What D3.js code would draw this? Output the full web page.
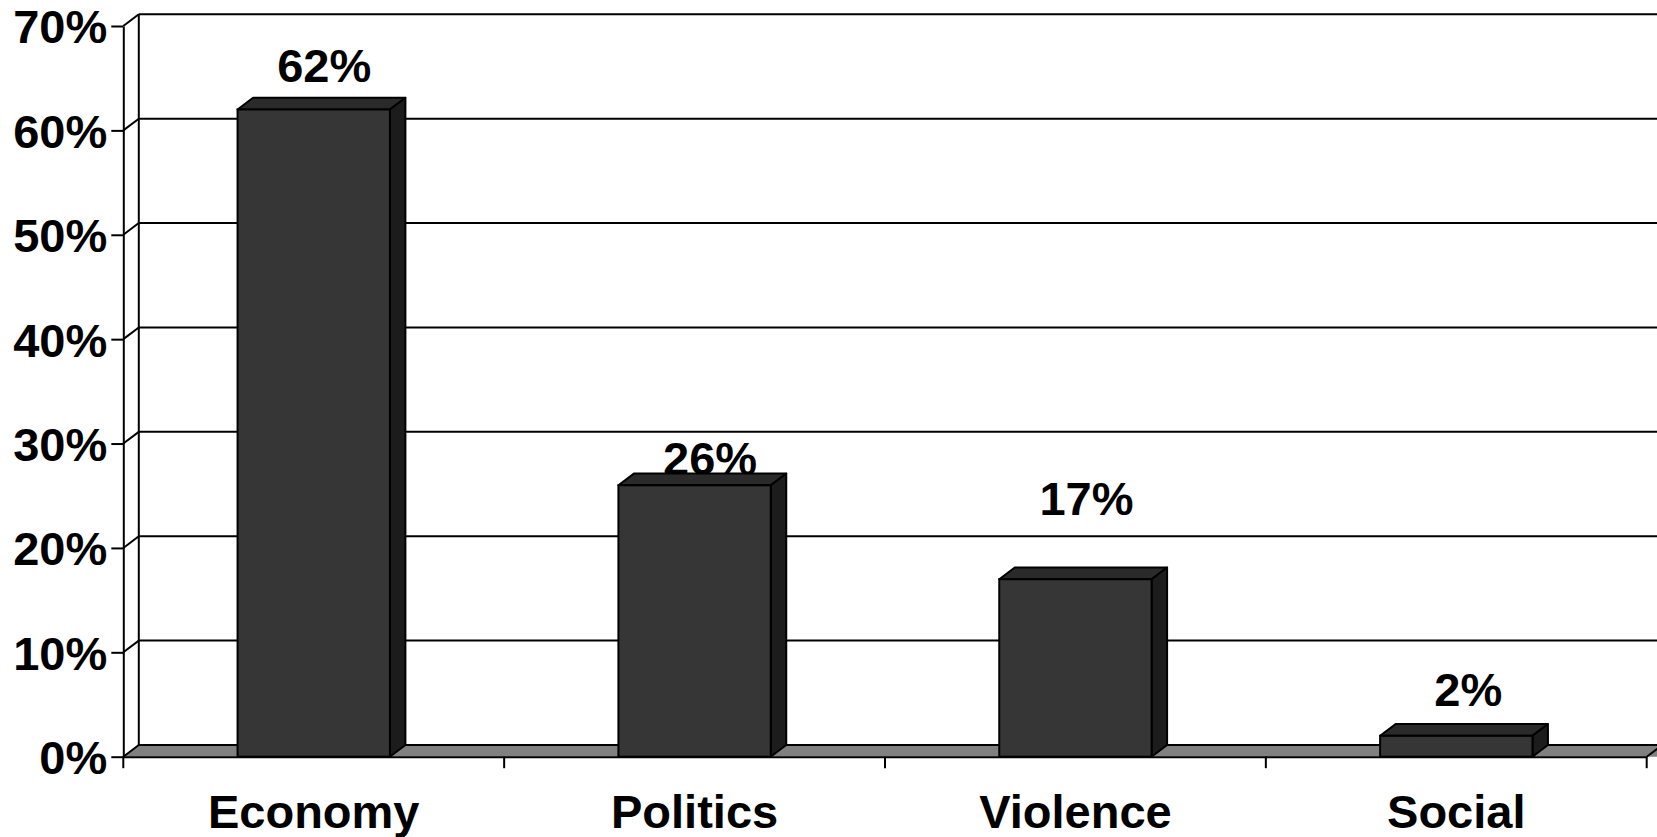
<!DOCTYPE html>
<html>
<head>
<meta charset="utf-8">
<script src="https://cdn.jsdelivr.net/npm/d3@7"></script>
<style>
  html, body { margin: 0; padding: 0; background: #fff; overflow: hidden; }
  svg { display: block; }
  text { font-family: "Liberation Sans", Arial, sans-serif; font-weight: bold; fill: #000; }
</style>
</head>
<body>
<svg id="chart" width="1657" height="837"></svg>
<script>
// ---- data ----
const categories = ["Economy", "Politics", "Violence", "Social"];
const values = [62, 26, 17, 2];
const valueLabels = ["62%", "26%", "17%", "2%"];
const yTicks = [0, 10, 20, 30, 40, 50, 60, 70];

// ---- layout ----
const svg = d3.select("#chart");
const left = 123.3, right = 1646.7, yBottom = 756.7, yTop = 26;
const dx = 15.5, dy = -11.7;           // depth offset
const fontSize = 47;

const x = d3.scaleBand().domain(categories).range([left, right])
  .paddingInner(0.6).paddingOuter(0.3);
const y = d3.scaleLinear().domain([0, 70]).range([yBottom, yTop]);

// label nudges (x from band centre, y from front top)
const labelDX = [10.5, 15.5, 11, 12];
const labelDY = [-27.4, -10, -64, -29.8];

// back wall gridlines
const g = svg.append("g");
g.selectAll("line.grid").data(yTicks.slice(1)).join("line")
  .attr("class", "grid")
  .attr("x1", left + dx).attr("x2", 1700)
  .attr("y1", d => y(d) + dy).attr("y2", d => y(d) + dy)
  .attr("stroke", "#000").attr("stroke-width", 2);
// left wall diagonals
g.selectAll("line.diag").data(yTicks.slice(1)).join("line")
  .attr("class", "diag")
  .attr("x1", left).attr("x2", left + dx)
  .attr("y1", d => y(d)).attr("y2", d => y(d) + dy)
  .attr("stroke", "#000").attr("stroke-width", 2);
// back wall left edge
g.append("line")
  .attr("x1", left + dx).attr("x2", left + dx)
  .attr("y1", y(0) + dy).attr("y2", y(70) + dy)
  .attr("stroke", "#000").attr("stroke-width", 2);

// floor
g.append("path")
  .attr("d", d3.line()([[left, y(0)], [left + dx, y(0) + dy], [right + dx + 40, y(0) + dy], [right + 40, y(0)], [left, y(0)]]))
  .attr("fill", "#808080");
g.append("line").attr("x1", left + dx).attr("x2", 1700)
  .attr("y1", y(0) + dy).attr("y2", y(0) + dy)
  .attr("stroke", "#000").attr("stroke-width", 2);
g.append("line").attr("x1", left).attr("x2", left + dx)
  .attr("y1", y(0)).attr("y2", y(0) + dy)
  .attr("stroke", "#000").attr("stroke-width", 2);
g.append("line").attr("x1", right).attr("x2", right + dx)
  .attr("y1", y(0)).attr("y2", y(0) + dy)
  .attr("stroke", "#000").attr("stroke-width", 2);

// value labels (drawn before bars, bars may overlap)
svg.append("g").selectAll("text").data(values).join("text")
  .attr("x", (d, i) => x(categories[i]) + x.bandwidth() / 2 + labelDX[i])
  .attr("y", (d, i) => y(d) + labelDY[i])
  .attr("text-anchor", "middle")
  .attr("font-size", fontSize)
  .text((d, i) => valueLabels[i]);

// bars
const bars = svg.append("g").selectAll("g").data(values).join("g");
bars.each(function (v, i) {
  const gb = d3.select(this);
  const x0 = x(categories[i]), x1 = x0 + x.bandwidth();
  const yt = y(v), yb = y(0);
  gb.append("path")
    .attr("d", d3.line()([[x0, yt], [x0 + dx, yt + dy], [x1 + dx, yt + dy], [x1, yt]]) + "Z")
    .attr("fill", "#2a2a2a").attr("stroke", "#000").attr("stroke-width", 2).attr("stroke-linejoin", "round");
  gb.append("path")
    .attr("d", d3.line()([[x1, yt], [x1 + dx, yt + dy], [x1 + dx, yb + dy], [x1, yb]]) + "Z")
    .attr("fill", "#1c1c1c").attr("stroke", "#000").attr("stroke-width", 2).attr("stroke-linejoin", "round");
  gb.append("rect")
    .attr("x", x0).attr("y", yt).attr("width", x1 - x0).attr("height", yb - yt)
    .attr("fill", "#363636").attr("stroke", "#000").attr("stroke-width", 2);
});

// y axis (front)
const yAxis = svg.append("g").attr("transform", `translate(${left},0)`)
  .call(d3.axisLeft(y).tickValues(yTicks).tickFormat(d => d + "%").tickSize(12).tickSizeOuter(0).tickPadding(4));
yAxis.select(".domain").attr("stroke", "#000").attr("stroke-width", 2);
yAxis.selectAll(".tick line").attr("stroke", "#000").attr("stroke-width", 2);
yAxis.selectAll(".tick text").attr("font-size", fontSize)
  .attr("font-family", "Liberation Sans, Arial, sans-serif").attr("font-weight", "bold")
  .attr("dy", "0.36em");

// x axis (front)
const xAxis = svg.append("g").attr("transform", `translate(0,${yBottom})`)
  .call(d3.axisBottom(x).tickSize(0).tickPadding(38));
xAxis.select(".domain").attr("stroke", "#000").attr("stroke-width", 2);
xAxis.selectAll(".tick text").attr("font-size", fontSize)
  .attr("font-family", "Liberation Sans, Arial, sans-serif").attr("font-weight", "bold");
// category boundary ticks
const bounds = d3.range(categories.length + 1).map(i => left + i * x.step());
xAxis.selectAll("line.bt").data(bounds).join("line").attr("class", "bt")
  .attr("x1", d => d).attr("x2", d => d).attr("y1", 0).attr("y2", 11.5)
  .attr("stroke", "#000").attr("stroke-width", 2);
</script>
</body>
</html>
